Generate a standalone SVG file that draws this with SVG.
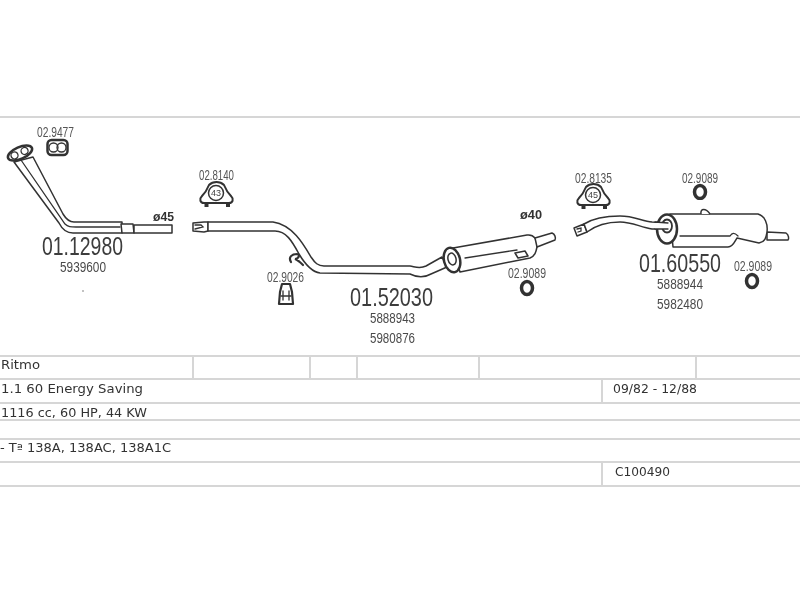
<svg xmlns="http://www.w3.org/2000/svg" width="800" height="600" viewBox="0 0 800 600">
<style>
.rule{stroke:#d6d6d6;stroke-width:2;fill:none}
.p{fill:#fff;stroke:#333;stroke-width:1.500;stroke-linejoin:round}
.l{fill:none;stroke:#333;stroke-width:1.300;stroke-linecap:round}
.code{font-family:"Liberation Sans",Arial,sans-serif;font-size:15px;fill:#555}
.big{font-family:"Liberation Sans",Arial,sans-serif;font-size:26px;fill:#3c3c3c}
.num{font-family:"Liberation Sans",Arial,sans-serif;font-size:14px;fill:#4a4a4a}
.dia{font-family:"Liberation Sans",Arial,sans-serif;font-size:12px;font-weight:bold;fill:#333}
.t{font-family:"DejaVu Sans",Verdana,sans-serif;font-size:11.5px;fill:#333}
.ring{fill:none;stroke:#333;stroke-width:3.500}
.hang{font-family:"Liberation Sans",Arial,sans-serif;font-size:9px;fill:#444}
</style>
<defs>
<filter id="soft" x="-5%" y="-5%" width="110%" height="110%"><feGaussianBlur stdDeviation="0.35"/></filter>
<g id="hanger">
<path class="p" style="stroke-width:2" d="M-7,-10 C-3,-14 4,-14 8,-10 C10,-5 12,-2 15,1 C18,4 17,8 13,8 L-12,8 C-16,8 -17,4 -14,1 C-11,-2 -9,-5 -7,-10Z"/>
<rect x="-11.500" y="8" width="4" height="4" fill="#333"/><rect x="10" y="8" width="4" height="4" fill="#333"/>
<circle cx="0" cy="-2" r="7.500" class="p"/>
</g>
</defs>
<rect width="800" height="600" fill="#fff"/>
<g id="table" filter="url(#soft)">
<path class="rule" d="M0,117H800M0,356H800M0,379H800M0,403H800M0,420H800M0,439H800M0,462H800M0,486H800"/>
<path class="rule" d="M193,356V379M310,356V379M357,356V379M479,356V379M696,356V379M602,379V403M602,462V486"/>
<text class="t" x="1" y="369" textLength="39" lengthAdjust="spacingAndGlyphs">Ritmo</text>
<text class="t" x="1" y="393" textLength="142" lengthAdjust="spacingAndGlyphs">1.1 60 Energy Saving</text>
<text class="t" x="1" y="417" textLength="146" lengthAdjust="spacingAndGlyphs">1116 cc, 60 HP, 44 KW</text>
<text class="t" x="0" y="452" textLength="171" lengthAdjust="spacingAndGlyphs">- Tª 138A, 138AC, 138A1C</text>
<text class="t" x="613" y="393" textLength="84" lengthAdjust="spacingAndGlyphs">09/82 - 12/88</text>
<text class="t" x="615" y="476" textLength="55" lengthAdjust="spacingAndGlyphs">C100490</text>
</g>
<g id="part-01-12980" filter="url(#soft)">
<path class="p" d="M14,162 L59,223 C62,229 67,233 73,233 L122,233 L122,222 L74,222 C69,222 66,219 63,214 L33,157 Z"/>
<path class="l" d="M21,160 L65,224 C68,227 71,227 76,227 L120,227"/>
<path class="p" d="M121,224 L133,224 L134,233 L122,233 Z"/>
<rect class="p" x="134" y="225" width="38" height="8"/>
<g transform="rotate(-24 20 153)">
<ellipse class="p" cx="20" cy="153" rx="13" ry="6" style="stroke-width:2.500"/>
<circle class="l" cx="14" cy="153" r="3.500"/><circle class="l" cx="25" cy="153" r="3.500"/>
</g>
<text class="big" x="42" y="255" textLength="81" lengthAdjust="spacingAndGlyphs">01.12980</text>
<text class="num" x="60" y="272" textLength="46" lengthAdjust="spacingAndGlyphs">5939600</text>
<text class="dia" x="153" y="221" textLength="21" lengthAdjust="spacingAndGlyphs">ø45</text>
<circle cx="83" cy="291" r="0.800" fill="#777"/>
</g>
<g id="clamp-02-9477" filter="url(#soft)">
<text class="code" x="37" y="137" textLength="37" lengthAdjust="spacingAndGlyphs">02.9477</text>
<rect class="p" x="47.500" y="140" width="20" height="15" rx="4" style="stroke-width:2.500"/>
<circle class="l" cx="53.500" cy="147.500" r="4.500"/><circle class="l" cx="61.500" cy="147.500" r="4.500"/>
</g>
<g id="clamp-02-8140" filter="url(#soft)">
<text class="code" x="199" y="180" textLength="35" lengthAdjust="spacingAndGlyphs">02.8140</text>
<use href="#hanger" x="216" y="195"/>
<text class="hang" x="216" y="196" text-anchor="middle">43</text>
</g>
<g id="part-01-52030" filter="url(#soft)">
<path class="p" d="M193,223 L204,222 L208,222 L208,231 L204,232 L193,231 Z"/>
<path class="l" d="M195,225 L201,225 L203,227 L195,229"/>
<path class="p" d="M208,222 L273,222 C293,225 304,245 311,257 C315,263 318,266 324,266 L410,266 C416,267 420,269 426,266 L442,257 L447,267 L431,274 C424,278 418,278 410,274 L320,273 C312,272 305,264 299,254 C292,241 286,231 275,231 L208,231 Z"/>
<path class="p" d="M453,248 L527,235 C534,234 538,240 537,247 C536,252 535,256 530,258 L460,272 Z"/>
<ellipse class="p" cx="452" cy="260" rx="8" ry="12.500" transform="rotate(-14 452 260)" style="stroke-width:2.500"/>
<ellipse class="p" cx="452" cy="259" rx="4" ry="6" transform="rotate(-14 452 259)"/>
<path class="l" d="M465,258 L517,250"/>
<path class="p" d="M515,253 L525,251 L528,256 L518,258 Z"/>
<path class="p" d="M535,238 L552,233 C555,234 556,238 555,240 L537,247 Z"/>
<text class="big" x="350" y="306" textLength="83" lengthAdjust="spacingAndGlyphs">01.52030</text>
<text class="num" x="370" y="323" textLength="45" lengthAdjust="spacingAndGlyphs">5888943</text>
<text class="num" x="370" y="343" textLength="45" lengthAdjust="spacingAndGlyphs">5980876</text>
<text class="dia" x="520" y="219" textLength="22" lengthAdjust="spacingAndGlyphs">ø40</text>
</g>
<g id="bracket-02-9026" filter="url(#soft)">
<path class="l" style="stroke-width:2.200" d="M291,262 C288,257 292,254 297,254 C301,255 298,259 295,259 C298,260 301,263 303,265"/>
<text class="code" x="267" y="282" textLength="37" lengthAdjust="spacingAndGlyphs">02.9026</text>
<path class="p" style="stroke-width:2.200" d="M282,284 L290,284 L292,292 L293,304 L279,304 L280,292 Z"/>
<path class="l" d="M283,291 L283,300 M289,291 L289,300 M281,296 L291,296"/>
</g>
<g id="ring-02-9089-a" filter="url(#soft)">
<text class="code" x="508" y="278" textLength="38" lengthAdjust="spacingAndGlyphs">02.9089</text>
<ellipse class="ring" cx="527" cy="288" rx="5.500" ry="6.500"/>
</g>
<g id="clamp-02-8135" filter="url(#soft)">
<text class="code" x="575" y="183" textLength="37" lengthAdjust="spacingAndGlyphs">02.8135</text>
<use href="#hanger" x="593" y="197"/>
<text class="hang" x="593" y="198" text-anchor="middle">45</text>
</g>
<g id="part-01-60550" filter="url(#soft)">
<path class="p" d="M574,228 L584,224 L587,232 L577,236 Z"/>
<path class="l" d="M577,229 L581,228 L581,231 L578,232"/>
<path class="p" d="M584,224 C592,219 604,216 620,216 C634,216 642,221 652,222 L668,223 L668,229 L652,229 C640,227 632,222 620,222 C606,222 595,226 587,232 Z"/>
<path class="p" d="M767,232 L786,233 C789,235 789,239 788,240 L767,240 Z"/>
<path class="p" d="M670,214 L758,214 C765,216 768,224 767,232 C766,238 765,242 759,243 L737,238 C735,241 733,247 728,247 L673,247 Z"/>
<path class="l" d="M680,236 L730,236 C732,233 734,232 738,236"/>
<ellipse class="p" cx="667" cy="229" rx="10" ry="14.500" style="stroke-width:2.500"/>
<ellipse class="p" cx="667" cy="226" rx="5" ry="6.500" style="stroke-width:1.800"/>
<path style="fill:#fff" d="M668,223 L668,229 L655,229 L655,223Z"/>
<path class="l" d="M655,222 L668,223 M655,229 L668,229"/>
<path class="p" d="M701,214 C700,208 706,208 710,214"/>
<text class="big" x="639" y="272" textLength="82" lengthAdjust="spacingAndGlyphs">01.60550</text>
<text class="num" x="657" y="289" textLength="46" lengthAdjust="spacingAndGlyphs">5888944</text>
<text class="num" x="657" y="309" textLength="46" lengthAdjust="spacingAndGlyphs">5982480</text>
</g>
<g id="ring-02-9089-b" filter="url(#soft)">
<text class="code" x="682" y="183" textLength="36" lengthAdjust="spacingAndGlyphs">02.9089</text>
<ellipse class="ring" cx="700" cy="192" rx="5.500" ry="6.500"/>
</g>
<g id="ring-02-9089-c" filter="url(#soft)">
<text class="code" x="734" y="271" textLength="38" lengthAdjust="spacingAndGlyphs">02.9089</text>
<ellipse class="ring" cx="752" cy="281" rx="5.500" ry="6.500"/>
</g>
</svg>
